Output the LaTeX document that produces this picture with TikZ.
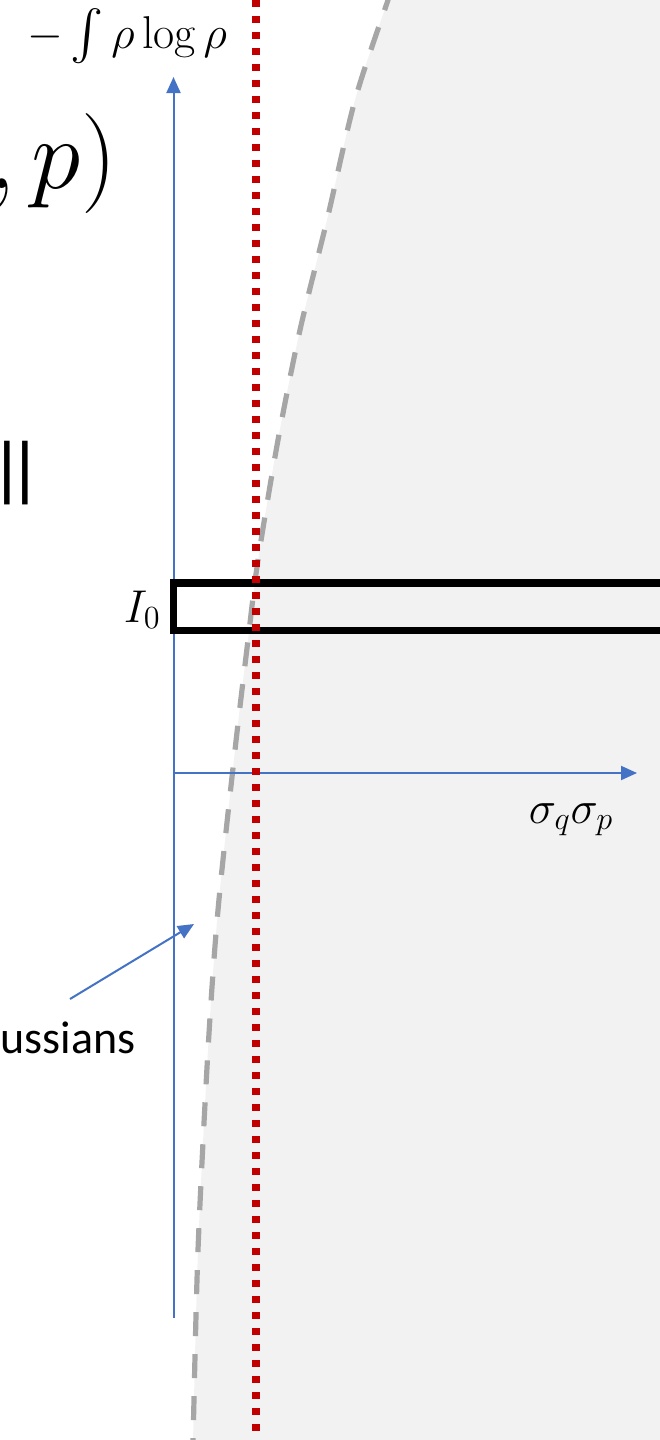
\RequirePackage{fix-cm}
\documentclass[tikz,border=0pt]{standalone}
\usepackage{exscale}
\usepackage{fontspec}
\newfontfamily\calibfont{Carlito}
\newfontfamily\arialfont{Liberation Sans}
\usetikzlibrary{arrows.meta}
\definecolor{axisblue}{HTML}{4472C4}
\definecolor{dotred}{HTML}{C00000}
\definecolor{dashgray}{HTML}{A6A6A6}
\definecolor{bggray}{HTML}{F2F2F2}
\def\curvepts{(392,-12) (388,0) (355,100) (327,220) (300,330) (278,440) (258,560) (248,640) (235,750) (218,910) (208,1050) (198,1250) (193,1440) (192,1452)}
\begin{document}
\begin{tikzpicture}[x=0.5pt,y=-0.5pt,
  axisline/.style={draw=axisblue,line width=1pt,-{Triangle[length=8pt,width=7pt]}},
  reddot/.style={draw=dotred,line width=3.6pt,dash pattern=on 3.6pt off 4.4pt},
  graydash/.style={draw=dashgray,line width=2.6pt,dash pattern=on 12pt off 9pt},
  boxstyle/.style={draw=black,line width=3.6pt},
  mathlbl/.style={inner sep=0pt,font=\fontsize{23}{28}\selectfont},
  biglbl/.style={inner sep=0pt,font=\fontsize{50}{58}\selectfont},
  textlbl/.style={inner sep=0pt,font=\calibfont\fontsize{23}{27}\selectfont}]
\useasboundingbox (0,0) rectangle (659,1440);
% shaded region
\fill[bggray] plot[smooth] coordinates {\curvepts} -- (680,1452) -- (680,-12) -- cycle;
% dashed boundary curve
\draw[graydash] plot[smooth] coordinates {\curvepts};
% axes
\coordinate (O) at (173.5,773);
\coordinate (ytop) at (173.5,77);
\coordinate (ybot) at (173.5,1318);
\coordinate (xend) at (637,773);
\draw[axisline] (ybot) -- (ytop);
\draw[axisline] (O) -- (xend);
% pointer arrow
\node[textlbl,anchor=base west] (gauss) at (0,1053) {ussians};
\coordinate (arrs) at (70,999);
\coordinate (arre) at (194,924);
\draw[axisline] (arrs) -- (arre);
% box
\coordinate (boxa) at (173.5,583);
\coordinate (boxb) at (720,630.5);
\draw[boxstyle] (boxa) rectangle (boxb);
% red dotted line
\coordinate (rtop) at (256,0);
\coordinate (rbot) at (256,1445);
\draw[reddot] (rtop) -- (rbot);
% labels
\node[mathlbl,anchor=base] (ylab) at (127,48) {$-\int\rho\log\rho$};
\node[mathlbl,anchor=base east] (ilab) at (161,622) {$I_0$};
\node[mathlbl,anchor=base] (xlab) at (571,823) {$\sigma_q\sigma_p$};
\node[biglbl,anchor=base east] (qp) at (117,188) {$,p)$};
\node[inner sep=0pt,anchor=base west,font=\arialfont\fontsize{34}{40}\selectfont] (bars) at (-2,490) {||};
\end{tikzpicture}
\end{document}
